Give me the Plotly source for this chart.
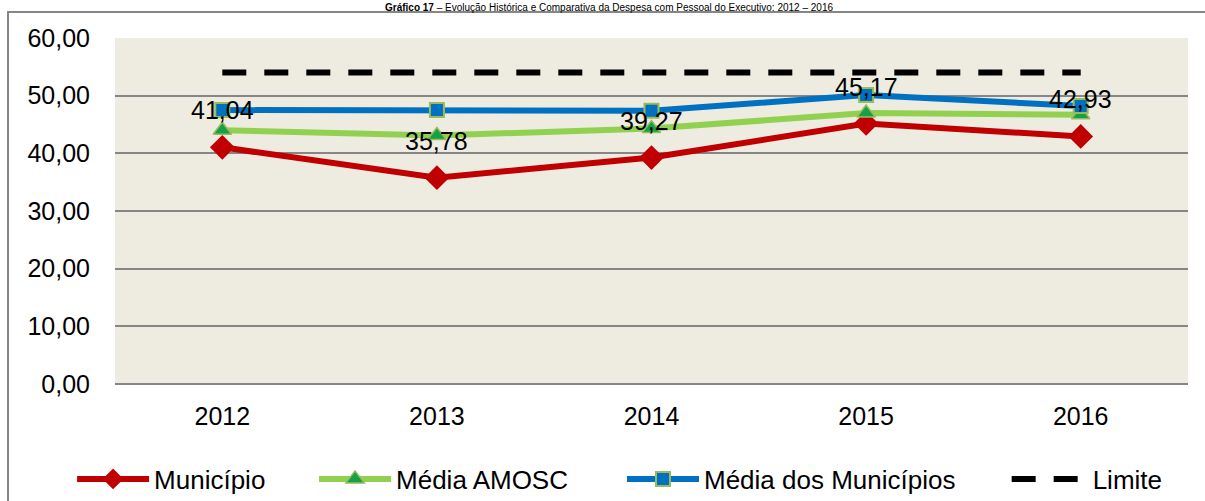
import plotly.graph_objects as go

anos = ["2012", "2013", "2014", "2015", "2016"]
municipio = [41.04, 35.78, 39.27, 45.17, 42.93]
media_amosc = [44.0, 43.1, 44.3, 47.0, 46.7]
media_municipios = [47.5, 47.5, 47.4, 50.1, 48.2]
limite = [54.0, 54.0, 54.0, 54.0, 54.0]
titulo = "<b>Gráfico 17</b> – Evolução Histórica e Comparativa da Despesa com Pessoal do Executivo: 2012 – 2016"

FONT = "Arial, 'Liberation Sans', sans-serif"
FS = 25

fig = go.Figure()
fig.add_trace(go.Scatter(
    x=anos, y=municipio, name="Município", mode="lines+markers", legend="legend",
    line=dict(color="#C00000", width=6),
    marker=dict(symbol="diamond", size=19, color="#C00000", line=dict(width=0)),
))
fig.add_trace(go.Scatter(
    x=anos, y=media_amosc, name="Média AMOSC", mode="lines+markers", legend="legend2",
    line=dict(color="#92D050", width=6),
    marker=dict(symbol="triangle-up", size=16, color="#12A24A",
                line=dict(color="#9BBB59", width=1.5)),
))
fig.add_trace(go.Scatter(
    x=anos, y=media_municipios, name="Média dos Municípios", mode="lines+markers", legend="legend3",
    line=dict(color="#0070C0", width=6),
    marker=dict(symbol="square", size=14, color="#0070C0",
                line=dict(color="#9BBB59", width=2)),
))
fig.add_trace(go.Scatter(
    x=anos, y=limite, name="Limite", mode="lines", legend="legend4",
    line=dict(color="#000000", width=6, dash="24px,18px"),
))

for i, v in enumerate(municipio):
    fig.add_annotation(
        x=i, y=v, xref="x", yref="y", text=f"{v:.2f}".replace(".", ","),
        showarrow=False, yshift=37, font=dict(family=FONT, size=FS, color="#000000"),
    )

# outer frame
fig.add_shape(type="rect", xref="paper", yref="paper",
              x0=-0.0997, x1=1.05, y0=-0.6, y1=1.0751,
              line=dict(color="#868686", width=2), fillcolor="rgba(0,0,0,0)", layer="below")

# caption at top
fig.add_annotation(
    xref="paper", yref="paper", x=0.46, y=1.1098, xanchor="center", yanchor="top",
    text=titulo, showarrow=False, font=dict(family=FONT, size=10, color="#000000"),
)

leg = dict(orientation="h", y=-0.2746, yanchor="middle", xanchor="left",
           font=dict(family=FONT, size=26), itemwidth=72, bgcolor="rgba(0,0,0,0)")

fig.update_layout(
    width=1205, height=501,
    margin=dict(l=115, r=17, t=38, b=117, autoexpand=False),
    paper_bgcolor="#FFFFFF", plot_bgcolor="#EEECE1",
    separators=",.",
    font=dict(family=FONT, size=FS, color="#000000"),
    showlegend=True,
    legend=dict(leg, x=-0.0400),
    legend2=dict(leg, x=0.1855),
    legend3=dict(leg, x=0.4725),
    legend4=dict(leg, x=0.8310, itemwidth=76),
    xaxis=dict(type="category", range=[-0.5, 4.5], showgrid=False, zeroline=False,
               showline=False, ticks="", ticklabelstandoff=15,
               tickfont=dict(family=FONT, size=FS)),
    yaxis=dict(range=[0, 60], dtick=10, tickformat=".2f", showgrid=True,
               gridcolor="#868686", gridwidth=2, zeroline=True, zerolinecolor="#868686",
               zerolinewidth=2, showline=False, ticks="", ticklabelstandoff=24,
               tickfont=dict(family=FONT, size=FS)),
)

fig.write_html("out.html", config={"displayModeBar": False},
               post_script="document.body.style.margin='0';")
